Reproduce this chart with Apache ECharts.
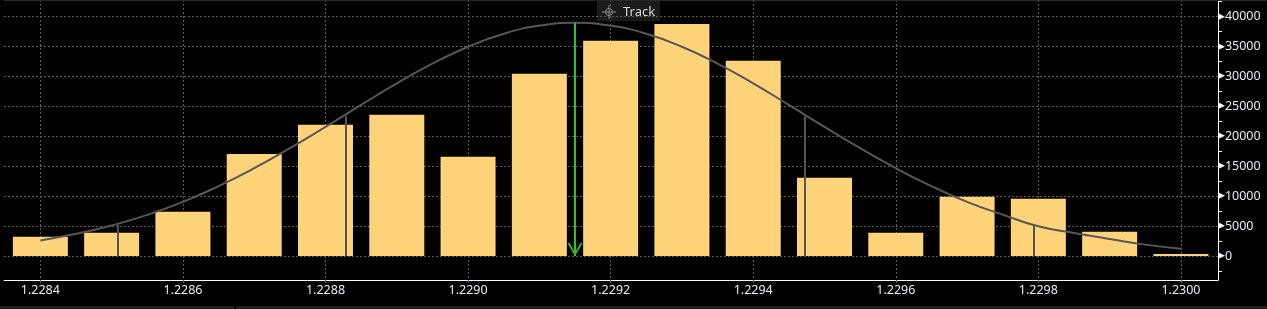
<!DOCTYPE html>
<html>
<head>
<meta charset="utf-8">
<script src="https://cdn.jsdelivr.net/npm/echarts@6/dist/echarts.min.js"></script>
<style>
html,body{margin:0;padding:0;background:#000;}
#chart{width:1267px;height:309px;}
</style>
</head>
<body>
<div id="chart"></div>
<script>
// ---- data ----
const binCenters = [1.2284, 1.2285, 1.2286, 1.2287, 1.2288, 1.2289, 1.2290, 1.2291, 1.2292, 1.2293, 1.2294, 1.2295, 1.2296, 1.2297, 1.2298, 1.2299, 1.2300];
const binCounts  = [3200, 3900, 7400, 17000, 21900, 23550, 16550, 30400, 35900, 38700, 32550, 13050, 3900, 9900, 9550, 4050, 0];

const curveX = [1.22840, 1.22845, 1.22850, 1.22855, 1.22860, 1.22865, 1.22870, 1.22875, 1.22880, 1.22885, 1.22890,
                1.22895, 1.22900, 1.22905, 1.22910, 1.22915, 1.22920, 1.22925, 1.22930, 1.22935, 1.22940, 1.22945,
                1.22950, 1.22955, 1.22960, 1.22965, 1.22970, 1.22975, 1.22980, 1.22985, 1.22990, 1.22995, 1.23000];
const curveY = [2600, 3700, 5100, 6860, 9040, 11650, 14640, 17980, 21540, 25200, 28790,
                32080, 34900, 37070, 38430, 38900, 38430, 37070, 34900, 32080, 28790, 25200,
                21540, 17980, 14640, 11650, 9040, 6900, 4950, 3850, 2850, 1900, 1220];

const meanX = 1.22915;
const meanY = 38900;
const sigmaX = [1.228508, 1.228829, 1.229472, 1.229793];
const sigmaY = [5200, 23300, 23300, 5200];

const xTicks = [1.2284, 1.2286, 1.2288, 1.2290, 1.2292, 1.2294, 1.2296, 1.2298, 1.2300];
const yMajor = [0, 5000, 10000, 15000, 20000, 25000, 30000, 35000, 40000];
const yMinor = [-2500, 2500, 7500, 12500, 17500, 22500, 27500, 32500, 37500, 42500];

const trackLabel = 'Track';

// ---- chart ----
const chart = echarts.init(document.getElementById('chart'), null, {renderer: 'canvas'});

const gridLine = {show: true, lineStyle: {color: '#5a5a5a', type: [2, 2], width: 1}};
const labelColor = '#e6eef8';
const yMin = -4000, yMax = 42700;

const barData = binCenters.map((x, i) => [x, binCounts[i]]);
const curveData = curveX.map((x, i) => [x, curveY[i]]);

const markData = sigmaX.map((x, i) => [
  {coord: [x, 0], symbol: 'none', lineStyle: {color: '#555', width: 2, type: 'solid'}},
  {coord: [x, sigmaY[i]], symbol: 'none'}
]);
markData.push([
  {coord: [meanX, meanY], symbol: 'none', lineStyle: {color: '#2fbf2f', width: 2, type: 'solid'}},
  {coord: [meanX, 0], symbol: 'path://M0,13 L7.5,0 L15,13 L13,13 L7.5,3.6 L2,13 Z', symbolSize: [15, 13], symbolOffset: [0, '50%']}
]);

const option = {
  backgroundColor: '#000',
  animation: false,
  grid: {left: 4, right: 49, top: 0, bottom: 29, containLabel: false},
  xAxis: {
    type: 'value',
    min: 1.228349, max: 1.230052,
    axisLine: {show: true, onZero: false, lineStyle: {color: '#ffffff', width: 1}},
    axisTick: {show: true, customValues: xTicks, length: 3, lineStyle: {color: '#666'}},
    axisLabel: {customValues: xTicks, formatter: v => v.toFixed(4), color: labelColor,
                fontFamily: 'Noto Sans', fontSize: 12.5, margin: 4},
    splitLine: gridLine
  },
  yAxis: [{
    type: 'value',
    position: 'right',
    min: yMin, max: yMax,
    splitNumber: 9,
    axisLine: {show: true, onZero: false, lineStyle: {color: '#ffffff', width: 1}},
    axisTick: {show: false, customValues: yMajor},
    axisLabel: {
      customValues: yMajor,
      margin: 0,
      formatter: v => '{t|\u25B6}{n|' + v + '}',
      rich: {
        t: {fontFamily: 'DejaVu Sans', fontSize: 9, color: '#ffffff'},
        n: {fontFamily: 'Noto Sans', fontSize: 12.5, color: labelColor}
      }
    },
    splitLine: gridLine
  }, {
    type: 'value',
    position: 'right',
    min: yMin, max: yMax,
    axisLine: {show: false, onZero: false},
    axisTick: {show: true, customValues: yMinor, length: 4, lineStyle: {color: '#ffffff'}},
    axisLabel: {show: false},
    splitLine: {show: false}
  }],
  series: [{
    type: 'bar',
    data: barData,
    barWidth: 55,
    barMinHeight: 2,
    itemStyle: {color: '#FFD37A'},
    z: 2
  }, {
    type: 'line',
    data: curveData,
    smooth: true,
    symbol: 'none',
    lineStyle: {color: '#575757', width: 2},
    z: 3,
    markLine: {
      silent: true,
      animation: false,
      label: {show: false},
      symbol: 'none',
      data: markData
    }
  }],
  graphic: [
    {type: 'rect', left: 4, top: 0, shape: {width: 1263, height: 1}, style: {fill: '#2a2a2a'}, z: 10},
    {type: 'rect', left: 0, top: 306, shape: {width: 234, height: 3}, style: {fill: '#1e1e1e'}, z: 10},
    {type: 'rect', left: 236, top: 306, shape: {width: 1031, height: 3}, style: {fill: '#1e1e1e'}, z: 10},
    {type: 'group', left: 597, top: 0, z: 20, children: [
      {type: 'rect', shape: {x: 0, y: 0, width: 63, height: 21}, style: {fill: '#1b1b1b'}},
      {type: 'circle', shape: {cx: 12, cy: 12, r: 3.5}, style: {fill: 'none', stroke: '#8a8a8a', lineWidth: 1}},
      {type: 'line', shape: {x1: 12, y1: 5, x2: 12, y2: 19}, style: {stroke: '#8a8a8a', lineWidth: 1}},
      {type: 'line', shape: {x1: 5, y1: 12, x2: 19, y2: 12}, style: {stroke: '#8a8a8a', lineWidth: 1}},
      {type: 'text', x: 26, y: 12, style: {text: trackLabel, fill: '#d8d8d8', font: '13px "Noto Sans"', verticalAlign: 'middle'}}
    ]}
  ]
};
chart.setOption(option);
</script>
</body>
</html>
